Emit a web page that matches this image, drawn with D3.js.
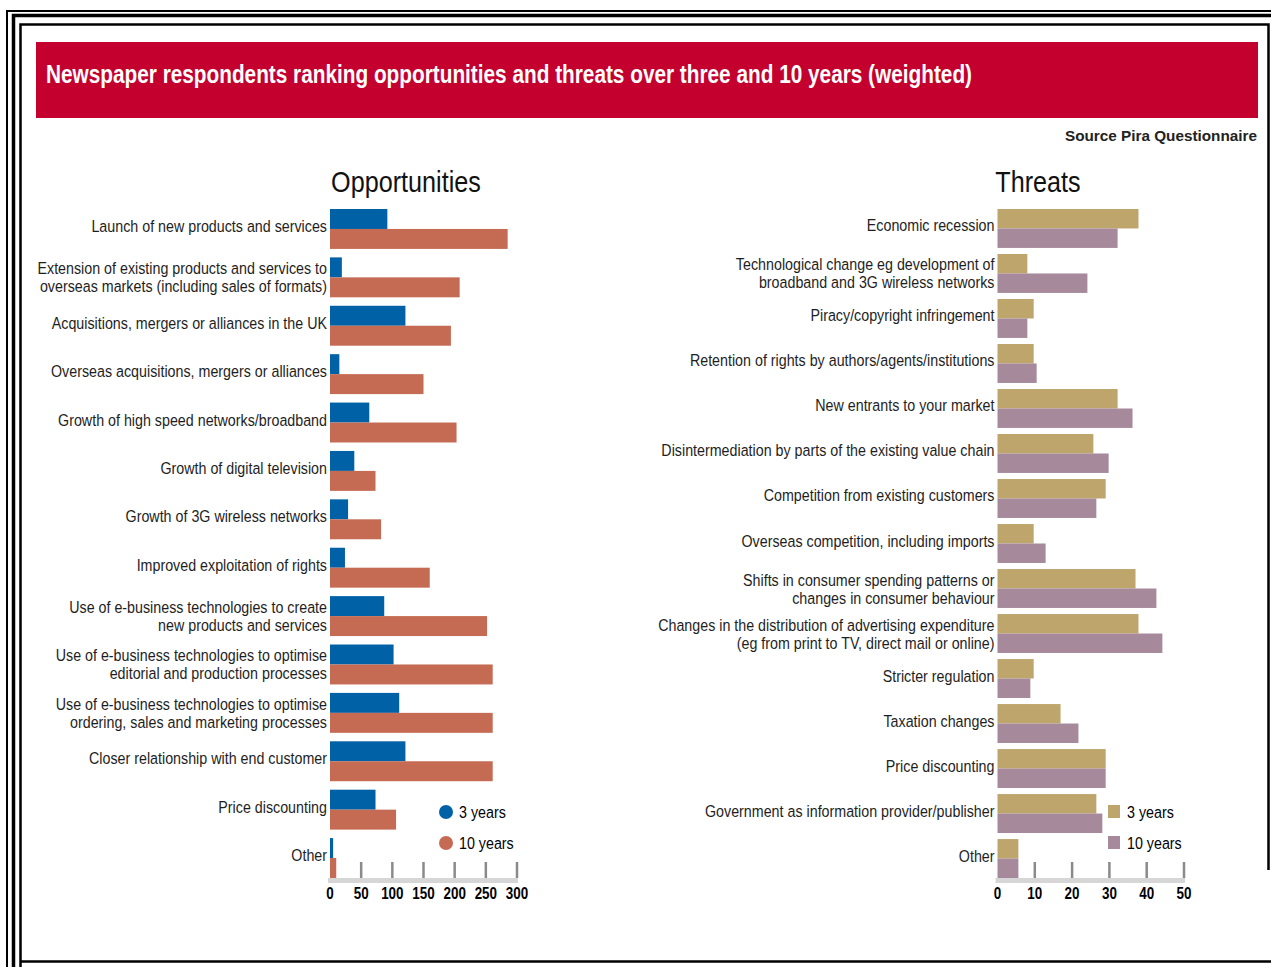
<!DOCTYPE html>
<html>
<head>
<meta charset="utf-8">
<script src="https://cdn.jsdelivr.net/npm/d3@7"></script>
<style>
  html, body { margin: 0; padding: 0; background: #fff; }
  svg { display: block; font-family: "Liberation Sans", Arial, sans-serif; }
</style>
</head>
<body>
<svg id="chart" width="1271" height="967"></svg>
<script>
// --- data
const oppLabels = [
  ["Launch of new products and services"],
  ["Extension of existing products and services to", "overseas markets (including sales of formats)"],
  ["Acquisitions, mergers or alliances in the UK"],
  ["Overseas acquisitions, mergers or alliances"],
  ["Growth of high speed networks/broadband"],
  ["Growth of digital television"],
  ["Growth of 3G wireless networks"],
  ["Improved exploitation of rights"],
  ["Use of e-business technologies to create", "new products and services"],
  ["Use of e-business technologies to optimise", "editorial and production processes"],
  ["Use of e-business technologies to optimise", "ordering, sales and marketing processes"],
  ["Closer relationship with end customer"],
  ["Price discounting"],
  ["Other"]
];
const opp3 = [92, 19, 121, 15, 63, 39, 29, 24, 87, 102, 111, 121, 73, 5];
const opp10 = [285, 208, 194, 150, 203, 73, 82, 160, 252, 261, 261, 261, 106, 10];
const oppTicks = [0, 50, 100, 150, 200, 250, 300];

const thrLabels = [
  ["Economic recession"],
  ["Technological change eg development of", "broadband and 3G wireless networks"],
  ["Piracy/copyright infringement"],
  ["Retention of rights by authors/agents/institutions"],
  ["New entrants to your market"],
  ["Disintermediation by parts of the existing value chain"],
  ["Competition from existing customers"],
  ["Overseas competition, including imports"],
  ["Shifts in consumer spending patterns or", "changes in consumer behaviour"],
  ["Changes in the distribution of advertising expenditure", "(eg from print to TV, direct mail or online)"],
  ["Stricter regulation"],
  ["Taxation changes"],
  ["Price discounting"],
  ["Government as information provider/publisher"],
  ["Other"]
];
const thr3 = [37.8, 8, 9.7, 9.7, 32.2, 25.7, 29, 9.7, 37, 37.8, 9.7, 16.9, 29, 26.5, 5.6];
const thr10 = [32.2, 24.1, 8, 10.5, 36.2, 29.8, 26.5, 12.9, 42.6, 44.2, 8.8, 21.7, 29, 28.1, 5.6];
const thrTicks = [0, 10, 20, 30, 40, 50];

const seriesNames = ["3 years", "10 years"];

const svg = d3.select("#chart");
const SQUEEZE = 0.84; // narrow face look

// condensed text helper (anchor at x,y)
function condText(parent, x, y, str, o = {}) {
  const g = parent.append("g").attr("transform", `translate(${x},${y}) scale(${o.sx || SQUEEZE},1)`);
  return g.append("text")
    .attr("text-anchor", o.anchor || "start")
    .attr("font-size", o.size || 17)
    .attr("font-weight", o.weight || "normal")
    .attr("fill", o.fill || "#1e1e1e")
    .text(str);
}

// --- frame
svg.append("path").attr("d", "M7,967V11H1271").attr("fill", "none").attr("stroke", "#000").attr("stroke-width", 2);
svg.append("path").attr("d", "M13.5,967V15.5H1271").attr("fill", "none").attr("stroke", "#000").attr("stroke-width", 3.5);
svg.append("path").attr("d", "M20.5,967V24.5H1268.5V870M20.5,961.5H1271").attr("fill", "none").attr("stroke", "#000").attr("stroke-width", 2.5);

// --- banner
svg.append("rect").attr("x", 36).attr("y", 42).attr("width", 1222).attr("height", 76).attr("fill", "#C4002F");
svg.append("text")
  .attr("x", 46).attr("y", 83)
  .attr("font-size", 25).attr("font-weight", "bold").attr("fill", "#fff")
  .attr("textLength", 926).attr("lengthAdjust", "spacingAndGlyphs")
  .text("Newspaper respondents ranking opportunities and threats over three and 10 years (weighted)");

svg.append("text")
  .attr("x", 1257).attr("y", 141).attr("text-anchor", "end")
  .attr("font-size", 15).attr("font-weight", "bold").attr("fill", "#222")
  .attr("textLength", 192).attr("lengthAdjust", "spacingAndGlyphs")
  .text("Source Pira Questionnaire");

function panel(cfg) {
  const g = svg.append("g");
  const n = cfg.labels.length;
  const x = d3.scaleLinear().domain(d3.extent(cfg.ticks)).range(cfg.xRange);
  const y = d3.scaleBand().domain(d3.range(n)).range(cfg.yRange).paddingInner(cfg.pad).paddingOuter(0);
  const ys = d3.scaleBand().domain([0, 1]).range([0, y.bandwidth()]);

  // title
  condText(g, cfg.titleX, 192, cfg.title, { anchor: "middle", size: 30, fill: "#111" });

  // bars
  [cfg.v3, cfg.v10].forEach((vals, si) => {
    g.append("g").selectAll("rect").data(vals).join("rect")
      .attr("x", x(0))
      .attr("y", (d, i) => y(i) + ys(si))
      .attr("width", d => x(d) - x(0))
      .attr("height", ys.bandwidth())
      .attr("fill", cfg.colors[si]);
  });

  // category labels
  cfg.labels.forEach((lines, i) => {
    const mid = y(i) + y.bandwidth() / 2;
    if (lines.length === 1) {
      condText(g, x(0) - 3, mid + 3, lines[0], { anchor: "end" });
    } else {
      condText(g, x(0) - 3, mid - 3, lines[0], { anchor: "end" });
      condText(g, x(0) - 3, mid + 15, lines[1], { anchor: "end" });
    }
  });

  // axis
  const axY = cfg.yRange[1];
  g.append("rect")
    .attr("x", x(0) - 2).attr("y", axY)
    .attr("width", x(cfg.ticks[cfg.ticks.length - 1]) - x(0) + 3).attr("height", 5)
    .attr("fill", "#d6d6d6");
  g.append("g").selectAll("line").data(cfg.ticks.slice(1)).join("line")
    .attr("x1", d => x(d)).attr("x2", d => x(d))
    .attr("y1", axY - 16).attr("y2", axY)
    .attr("stroke", "#8a8a8a").attr("stroke-width", 2.5);
  cfg.ticks.forEach(t => {
    condText(g, x(t), axY + 21, String(t), { anchor: "middle", size: 16, weight: "bold", fill: "#000" });
  });

  // legend
  seriesNames.forEach((s, i) => {
    const ly = cfg.legendY + i * 31;
    if (cfg.legendShape === "dot") {
      g.append("circle").attr("cx", cfg.legendX).attr("cy", ly - 6).attr("r", 7).attr("fill", cfg.colors[i]);
    } else {
      g.append("rect").attr("x", cfg.legendX - 6).attr("y", ly - 13).attr("width", 12).attr("height", 13).attr("fill", cfg.colors[i]);
    }
    condText(g, cfg.legendX + 13, ly, s, { size: 17, fill: "#000" });
  });
}

panel({
  title: "Opportunities", titleX: 406,
  labels: oppLabels, v3: opp3, v10: opp10, ticks: oppTicks,
  xRange: [330, 517], yRange: [209, 878], pad: 0.175,
  colors: ["#0061A6", "#C56A53"],
  legendX: 446, legendY: 818, legendShape: "dot"
});

panel({
  title: "Threats", titleX: 1038,
  labels: thrLabels, v3: thr3, v10: thr10, ticks: thrTicks,
  xRange: [997.5, 1184], yRange: [209, 878], pad: 0.135,
  colors: ["#BDA56B", "#A68A9C"],
  legendX: 1114, legendY: 818, legendShape: "square"
});
</script>
</body>
</html>
